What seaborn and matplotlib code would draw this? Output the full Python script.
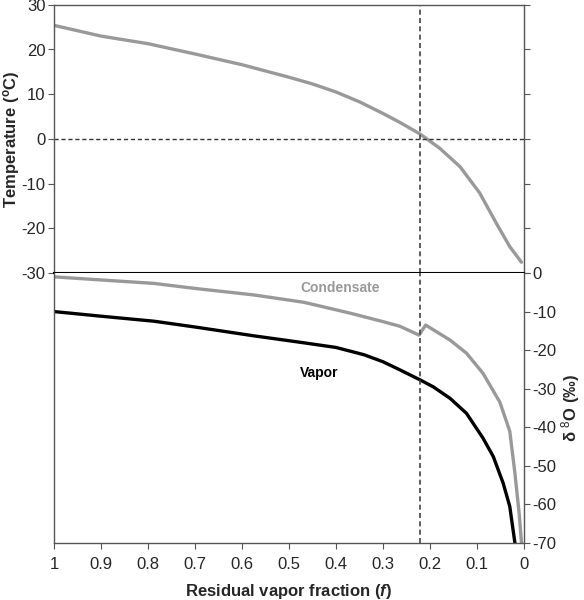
import pandas as pd
import matplotlib
matplotlib.use("Agg")
import matplotlib.pyplot as plt
import seaborn as sns

# residual vapor fraction vs temperature
f_temp = [1.0, 0.9, 0.8, 0.7, 0.6, 0.5, 0.45, 0.4, 0.35, 0.3, 0.264, 0.221, 0.179, 0.136, 0.094, 0.059, 0.03, 0.005]
temp = [25.4, 23.0, 21.3, 19.0, 16.6, 13.8, 12.3, 10.5, 8.3, 5.7, 3.7, 1.1, -2.1, -6.2, -12.1, -18.8, -24.1, -27.6]

# condensate d18O
f_cond = [1.0, 0.9, 0.787, 0.7, 0.574, 0.468, 0.37, 0.3, 0.264, 0.223, 0.209, 0.157, 0.122, 0.087, 0.051, 0.03, 0.019, 0.010, 0.005]
d_cond = [-1.0, -1.8, -2.7, -4.0, -5.7, -7.6, -10.4, -12.6, -13.8, -16.1, -13.5, -17.4, -20.8, -26.0, -33.5, -41.0, -51.9, -62.3, -70.0]

# vapor d18O
f_vap = [1.0, 0.9, 0.787, 0.7, 0.574, 0.468, 0.4, 0.34, 0.3, 0.264, 0.221, 0.193, 0.157, 0.122, 0.087, 0.065, 0.044, 0.03, 0.019]
d_vap = [-10.0, -11.2, -12.5, -14.0, -16.3, -18.1, -19.3, -21.2, -23.0, -25.1, -27.7, -29.5, -32.5, -36.4, -42.8, -47.6, -54.5, -60.5, -70.0]

f_cross = 0.221
x_ticks = [1, 0.9, 0.8, 0.7, 0.6, 0.5, 0.4, 0.3, 0.2, 0.1, 0]
x_labels = ["1", "0.9", "0.8", "0.7", "0.6", "0.5", "0.4", "0.3", "0.2", "0.1", "0"]

df_t = pd.DataFrame({"f": f_temp, "T": temp})
df_c = pd.DataFrame({"f": f_cond, "d": d_cond})
df_v = pd.DataFrame({"f": f_vap, "d": d_vap})

sns.set_style("white")
plt.rcParams["font.family"] = ["Liberation Sans", "DejaVu Sans"]
plt.rcParams["axes.unicode_minus"] = False
plt.rcParams["mathtext.fontset"] = "custom"
plt.rcParams["mathtext.rm"] = "Liberation Sans"
plt.rcParams["mathtext.it"] = "Liberation Sans:italic:bold"
plt.rcParams["mathtext.bf"] = "Liberation Sans:bold"

gray = "#999999"
spine = "#555555"

fig = plt.figure(figsize=(5.84, 6), dpi=100)
ax1 = fig.add_axes([0.0925, 0.545, 0.8045, 0.447])
ax2 = fig.add_axes([0.0925, 0.095, 0.8045, 0.45])

# top panel
sns.lineplot(data=df_t, x="f", y="T", ax=ax1, color=gray, lw=2.4, estimator=None)
ax1.axhline(0, color="#333333", ls=(0, (3, 2)), lw=1)
ax1.axvline(f_cross, color="#444444", ls=(0, (3, 2)), lw=1.2)
ax1.set_xlim(1, 0)
ax1.set_ylim(-30, 30)
ax1.set_yticks(range(-30, 31, 10))
ax1.set_xticks([])
ax1.set_xlabel("")
ax1.set_ylabel("Temperature ($\\mathbf{^{o}}$C)", fontsize=12, fontweight="bold", labelpad=0)
ax1.tick_params(axis="y", which="both", direction="out", length=4, color=spine,
                left=True, right=True, labelleft=True, labelright=False, labelsize=12, pad=2)
for s in ["top", "left", "right"]:
    ax1.spines[s].set_color(spine)
    ax1.spines[s].set_linewidth(1)
ax1.spines["bottom"].set_color("black")
ax1.spines["bottom"].set_linewidth(1.5)

# bottom panel
sns.lineplot(data=df_c, x="f", y="d", ax=ax2, color=gray, lw=2.4, estimator=None, sort=False)
sns.lineplot(data=df_v, x="f", y="d", ax=ax2, color="black", lw=2.4, estimator=None, sort=False)
ax2.axvline(f_cross, color="#444444", ls=(0, (3, 2)), lw=1.2)
ax2.set_xlim(1, 0)
ax2.set_ylim(-70, 0)
ax2.set_yticks(range(-70, 1, 10))
ax2.yaxis.tick_right()
ax2.yaxis.set_label_position("right")
ax2.set_ylabel("δ $^{8}$O (‰)", fontsize=12, fontweight="bold", labelpad=2)
ax2.set_xticks(x_ticks)
ax2.set_xticklabels(x_labels)
ax2.set_xlabel("Residual vapor fraction ($\\it{f}$)", fontsize=12, fontweight="bold", labelpad=7)
ax2.tick_params(axis="x", direction="out", length=4, color=spine, bottom=True, labelsize=12, pad=6)
ax2.tick_params(axis="y", direction="out", length=4, color=spine, right=True, left=False,
                labelright=True, labelleft=False, labelsize=12, pad=2)
ax2.spines["top"].set_visible(False)
for s in ["left", "right", "bottom"]:
    ax2.spines[s].set_color(spine)
    ax2.spines[s].set_linewidth(1)

ax2.text(0.39, -4.0, "Condensate", color=gray, fontsize=10, fontweight="bold", ha="center", va="center")
ax2.text(0.435, -26.0, "Vapor", color="black", fontsize=10, fontweight="bold", ha="center", va="center")

fig.savefig("out.png", dpi=100)
